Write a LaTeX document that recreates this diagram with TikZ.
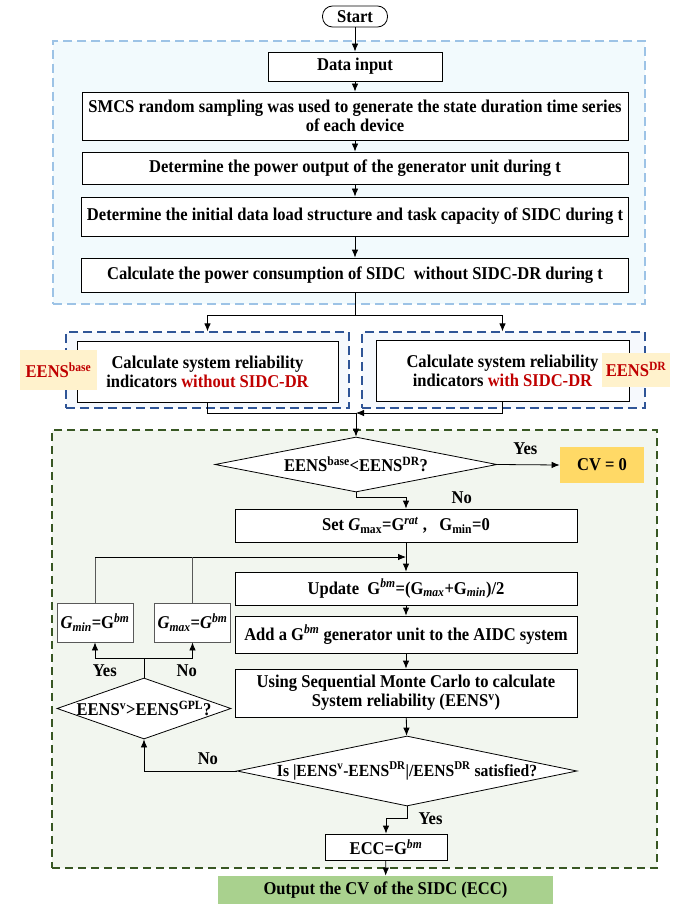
\documentclass[tikz,border=0pt]{standalone}
\usepackage{fontspec}
\setmainfont[FakeStretch=0.92]{Liberation Serif}
\usetikzlibrary{shapes.geometric,arrows.meta}
\definecolor{skyline}{RGB}{157,195,230}
\definecolor{skyfill}{RGB}{242,250,253}
\definecolor{navyline}{RGB}{47,85,151}
\definecolor{navyfill}{RGB}{246,249,253}
\definecolor{leafline}{RGB}{56,87,35}
\definecolor{leaffill}{RGB}{242,246,239}
\definecolor{darkred}{RGB}{192,0,0}
\definecolor{cream}{RGB}{255,242,204}
\definecolor{gold}{RGB}{255,217,102}
\definecolor{sage}{RGB}{169,209,142}
\definecolor{slate}{RGB}{89,89,89}

\begin{document}
\begin{tikzpicture}[x=1pt, y=-1pt, font=\fontsize{18}{19}\selectfont\bfseries,
  box/.style={draw, fill=white, line width=0.8pt, align=center, inner sep=1pt},
  dia/.style={diamond, draw, fill=white, line width=0.8pt, inner sep=0pt},
  frame/.style={draw, line width=1.2pt, dash pattern=on 9pt off 5pt, inner sep=0pt},
  tag/.style={fill=cream, text=darkred, inner sep=0pt},
  link/.style={line width=0.8pt, -{Latex[length=8pt,width=6.5pt]}},
  wire/.style={line width=0.8pt}]
  \useasboundingbox (0,0) rectangle (679,904);

  % Dashed zones behind the steps
  \node[frame, skyline, fill=skyfill, minimum width=592pt, minimum height=263pt] (skyzone) at (349,172.5) {};
  \node[frame, navyline, fill=navyfill, minimum width=283pt, minimum height=76pt] (lframe) at (207.5,370) {};
  \node[frame, navyline, fill=navyfill, minimum width=283pt, minimum height=76pt] (rframe) at (503.5,370) {};
  \node[frame, leafline, fill=leaffill, line width=1.6pt, dash pattern=on 8pt off 5pt, minimum width=605pt, minimum height=438pt] (leafzone) at (354.5,649) {};

  % Preparation steps
  \node[box, rounded corners=10pt, minimum width=65pt, minimum height=21pt] (start) at (355,16.5) {Start};
  \node[box, minimum width=174pt, minimum height=29pt] (din) at (355,66.5) {Data input};
  \node[box, minimum width=546pt, minimum height=48pt] (smcs) at (355,116) {SMCS random sampling was used to generate the state duration time series\\of each device};
  \node[box, minimum width=546pt, minimum height=32pt] (gen) at (355,168) {Determine the power output of the generator unit during t};
  \node[box, minimum width=547pt, minimum height=39pt] (init) at (355,216.5) {Determine the initial data load structure and task capacity of SIDC during t};
  \node[box, minimum width=547pt, minimum height=34pt] (calc) at (355,275) {Calculate the power consumption of SIDC\ \ without SIDC-DR during t};

  % Two reliability cases
  \node[box, minimum width=261pt, minimum height=61pt] (lbox) at (207.5,371.5) {Calculate system reliability\\indicators \textcolor{darkred}{without SIDC-DR}};
  \node[box, minimum width=253pt, minimum height=61pt] (rbox) at (502.5,370.5) {Calculate system reliability\\indicators \textcolor{darkred}{with SIDC-DR}};
  \node[tag, minimum width=77pt, minimum height=40pt] (tbase) at (58.5,370) {EENS\textsuperscript{base}};
  \node[tag, minimum width=68pt, minimum height=34pt] (tdr) at (636,369.5) {EENS\textsuperscript{DR}};

  % Capacity search
  \node[dia, minimum width=282pt, minimum height=55pt, label=center:{EENS\textsuperscript{base}<EENS\textsuperscript{DR}?}] (d1) at (356,464.5) {};
  \node[box, draw=none, fill=gold, minimum width=84pt, minimum height=36pt] (cv) at (602,465) {CV = 0};
  \node[box, minimum width=342pt, minimum height=33pt] (set) at (406,525.5) {Set \textit{G}\textsubscript{max}=G\textsuperscript{\textit{rat}}\ ,\ \ \ G\textsubscript{min}=0};
  \node[box, minimum width=342pt, minimum height=33pt] (upd) at (406,588.5) {Update\ \ G\textsuperscript{\textit{bm}}=(G\textsubscript{\textit{max}}+G\textsubscript{\textit{min}})/2};
  \node[box, minimum width=342pt, minimum height=37pt] (add) at (406,634.5) {Add a G\textsuperscript{\textit{bm}} generator unit to the AIDC system};
  \node[box, minimum width=342pt, minimum height=48pt] (smc) at (406,693) {Using Sequential Monte Carlo to calculate\\System reliability (EENS\textsuperscript{v})};
  \node[dia, minimum width=340pt, minimum height=70pt, label={[font=\fontsize{17}{18}\selectfont\bfseries]center:{Is |EENS\textsuperscript{v}-EENS\textsuperscript{DR}|/EENS\textsuperscript{DR} satisfied?}}] (d2) at (407,771) {};
  \node[dia, minimum width=174pt, minimum height=61pt, label=center:{EENS\textsuperscript{v}>EENS\textsuperscript{GPL}?}] (d3) at (144,708.5) {};
  \node[box, draw=slate, minimum width=76pt, minimum height=39pt] (gmin) at (95,622.5) {\textit{G\textsubscript{min}}=G\textsuperscript{\textit{bm}}};
  \node[box, draw=slate, minimum width=76pt, minimum height=39pt] (gmax) at (192.5,622.5) {\textit{G\textsubscript{max}}=\textit{G}\textsuperscript{\textit{bm}}};
  \node[box, minimum width=122pt, minimum height=26pt] (ecc) at (386,847) {ECC=G\textsuperscript{\textit{bm}}};
  \node[box, draw=none, fill=sage, minimum width=335pt, minimum height=28pt] (out) at (385.5,890) {Output the CV of the SIDC (ECC)};

  % Branch points
  \coordinate (fork) at (355,315);
  \coordinate (mrg) at (356,413);
  \coordinate (join) at (406,557);
  \coordinate (split) at (144,658);

  % Main flow
  \draw[link] (start) -- (din);
  \draw[link] (din) -- (smcs);
  \draw[link] (smcs) -- (gen);
  \draw[link] (gen) -- (init);
  \draw[link] (init) -- (calc);
  \draw[wire] (calc) -- (fork);
  \draw[link] (fork) -| (lbox.north |- lframe.north);
  \draw[link] (fork) -| (rbox.north |- rframe.north);
  \draw[wire] (lbox.south) |- (mrg);
  \draw[link] (rbox.south) |- (mrg);
  \draw[link] (mrg) -- (d1.north);
  \draw[link] (d1.east) -- (cv.west) node[pos=0.45, above=6pt] {Yes};
  \draw[link] (d1.south) -- ++(0,5) -| (set.north) node[pos=0.5, anchor=west, xshift=42pt] {No};
  \draw[link] (set) -- (upd);
  \draw[link] (upd) -- (add);
  \draw[link] (add) -- (smc);
  \draw[link] (smc) -- (d2);

  % Bisection loop
  \draw[link] (d2.west) -| (d3.south) node[pos=0.155, above=3pt] {No};
  \draw[wire] (d3.north) -- (split);
  \draw[link] (split) -| (gmin.south) node[pos=0.4, below=3pt] {Yes};
  \draw[link] (split) -| (gmax.south) node[pos=0.44, below=3pt] {No};
  \draw[wire, slate] (gmin.north) -- (gmin.north |- join);
  \draw[link] (gmin.north |- join) -- (join);
  \draw[wire, slate] (gmax.north) -- (gmax.north |- join);

  % Result
  \draw[link] (d2.south) -- ++(0,12) -| (ecc.north) node[pos=0.1, right=12pt] {Yes};
  \draw[link] (ecc) -- (out);
\end{tikzpicture}
\end{document}
